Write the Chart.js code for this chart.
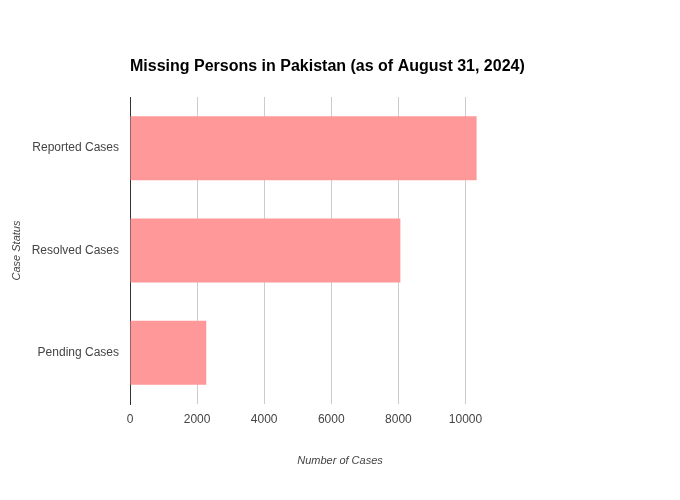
<!DOCTYPE html>
<html>
<head>
<meta charset="utf-8">
<script src="https://cdn.jsdelivr.net/npm/chart.js@4"></script>
<style>
  html, body { margin: 0; padding: 0; background: #fff; }
  #wrap { width: 680px; height: 500px; }
</style>
</head>
<body>
<div id="wrap"><canvas id="chart" width="680" height="500"></canvas></div>
<script>
const categories = ["Reported Cases", "Resolved Cases", "Pending Cases"];
const caseCounts = [10332, 8059, 2273];
const xTicks = [0, 2000, 4000, 6000, 8000, 10000];

const FONT = "'Liberation Sans', Arial, sans-serif";
const titleText = "Missing Persons in Pakistan (as of August 31, 2024)";
const xTitleText = "Number of Cases";

// title left-aligned with the plot area, x axis title centred on the page
const titlePlugin = {
  id: "pageTitles",
  afterDraw(chart) {
    const ctx = chart.ctx;
    ctx.save();
    ctx.textBaseline = "middle";
    ctx.font = "bold 16px " + FONT;
    ctx.fillStyle = "#000";
    ctx.textAlign = "left";
    ctx.fillText(titleText, chart.chartArea.left, 67);
    ctx.font = "italic 11px " + FONT;
    ctx.fillStyle = "#444";
    ctx.textAlign = "center";
    ctx.fillText(xTitleText, chart.width / 2, 461);
    ctx.restore();
  }
};

new Chart(document.getElementById("chart"), {
  type: "bar",
  data: {
    labels: categories,
    datasets: [{
      data: caseCounts,
      backgroundColor: "#ff9999",
      borderWidth: 0,
      categoryPercentage: 1,
      barPercentage: 0.625
    }]
  },
  options: {
    indexAxis: "y",
    responsive: false,
    animation: false,
    layout: { padding: { top: 97, right: 186, bottom: 0, left: 0 } },
    plugins: {
      legend: { display: false },
      tooltip: { enabled: false }
    },
    scales: {
      x: {
        min: 0,
        max: 10850,
        afterBuildTicks: (scale) => {
          scale.ticks = xTicks.map(v => ({ value: v }));
        },
        afterFit: (scale) => { scale.height = 96; },
        grid: { color: "#cccccc", lineWidth: 1, drawTicks: false },
        border: { display: false },
        ticks: {
          color: "#444",
          padding: 8,
          font: { family: FONT, size: 12 },
          callback: (v) => String(v)
        }
      },
      y: {
        afterFit: (scale) => { scale.width = 130; },
        grid: { display: false, drawTicks: false },
        border: { display: true, color: "#333", width: 1 },
        ticks: {
          color: "#444",
          padding: 11,
          font: { family: FONT, size: 12 }
        },
        title: {
          display: true,
          text: "Case Status",
          color: "#444",
          padding: { top: 10, bottom: 0 },
          font: { family: FONT, size: 11, style: "italic" }
        }
      }
    }
  },
  plugins: [titlePlugin]
});
</script>
</body>
</html>
